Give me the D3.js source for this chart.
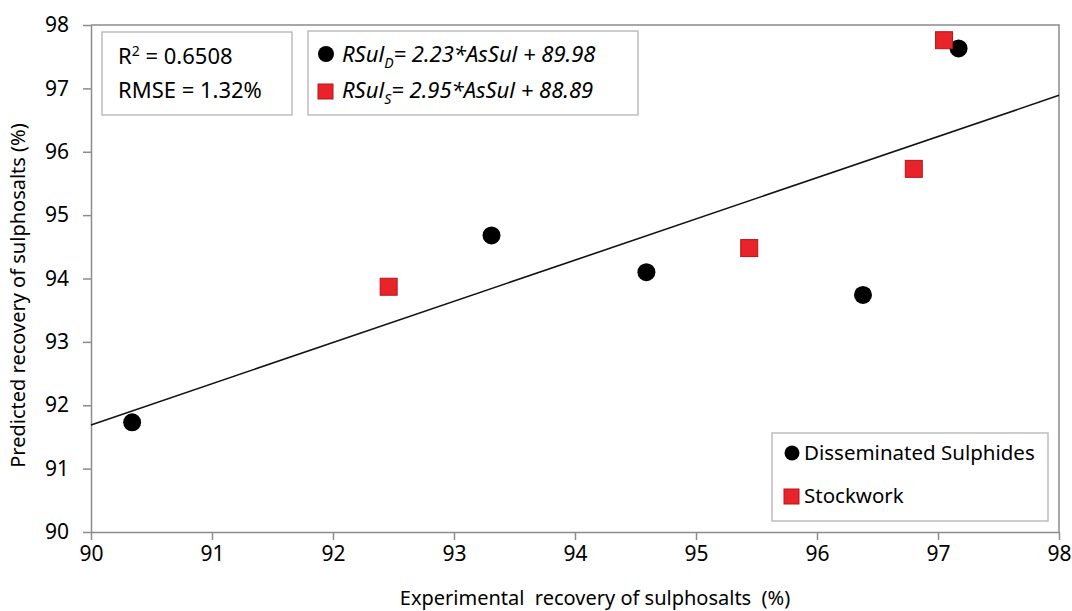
<!DOCTYPE html>
<html>
<head>
<meta charset="utf-8">
<script src="https://cdn.jsdelivr.net/npm/d3@7"></script>
<style>
  body { margin: 0; background: #fff; }
  text { font-family: "Noto Sans", "Open Sans", sans-serif; }
</style>
</head>
<body>
<script>
// experimental (x) vs predicted (y) recovery
const disseminated = [
  [90.34, 91.73], [93.31, 94.68], [94.59, 94.10], [96.38, 93.74], [97.17, 97.63]
];
const stockwork = [
  [92.46, 93.87], [95.44, 94.48], [96.80, 95.73], [97.05, 97.76]
];
const fitLine = [[90, 91.69], [98, 96.89]];
const xTicks = [90, 91, 92, 93, 94, 95, 96, 97, 98];
const yTicks = [90, 91, 92, 93, 94, 95, 96, 97, 98];
const seriesNames = ["Disseminated Sulphides", "Stockwork"];

const width = 1072, height = 611;
const margin = {top: 25, right: 13, bottom: 79, left: 91};
const red = "#e8232a", redStroke = "#b3171c", axisColor = "#8c8c8c", boxColor = "#bdbdbd";

const svg = d3.select("body").append("svg")
    .attr("width", width)
    .attr("height", height);

const x = d3.scaleLinear().domain([90, 98]).range([margin.left, width - margin.right]);
const y = d3.scaleLinear().domain([90, 98]).range([height - margin.bottom, margin.top]);

// plot frame (top and right)
svg.append("path")
    .attr("d", `M${x(90)},${y(98)}H${x(98)}V${y(90)}`)
    .attr("fill", "none")
    .attr("stroke", axisColor)
    .attr("stroke-width", 1.5);

const xAxis = svg.append("g")
    .attr("transform", `translate(0,${y(90)})`)
    .call(d3.axisBottom(x).tickValues(xTicks).tickSize(8).tickPadding(6).tickSizeOuter(0));
const yAxis = svg.append("g")
    .attr("transform", `translate(${x(90)},0)`)
    .call(d3.axisLeft(y).tickValues(yTicks).tickSize(8).tickPadding(14).tickSizeOuter(0));

[xAxis, yAxis].forEach(function(a) {
    a.selectAll("path, line").attr("stroke", axisColor).attr("stroke-width", 1.5);
    a.selectAll("text")
        .attr("fill", "#000")
        .attr("font-size", 21)
        .attr("font-family", "'Noto Sans', sans-serif");
});

// axis titles
svg.append("text")
    .attr("x", (x(90) + x(98)) / 2 + 20)
    .attr("y", 605)
    .attr("text-anchor", "middle")
    .attr("font-size", 20)
    .attr("fill", "#000")
    .attr("xml:space", "preserve")
    .text("Experimental  recovery of sulphosalts  (%)");

svg.append("text")
    .attr("transform", `translate(25,${(y(90) + y(98)) / 2 + 17}) rotate(-90)`)
    .attr("text-anchor", "middle")
    .attr("font-size", 20)
    .attr("fill", "#000")
    .text("Predicted recovery of sulphosalts (%)");

// fitted line
svg.append("path")
    .datum(fitLine)
    .attr("d", d3.line().x(d => x(d[0])).y(d => y(d[1])))
    .attr("fill", "none")
    .attr("stroke", "#111")
    .attr("stroke-width", 1.6);

// points
svg.append("g").selectAll("circle")
    .data(disseminated)
    .enter().append("circle")
    .attr("cx", d => x(d[0]))
    .attr("cy", d => y(d[1]))
    .attr("r", 9)
    .attr("fill", "#000");

const sq = 17;
svg.append("g").selectAll("rect")
    .data(stockwork)
    .enter().append("rect")
    .attr("x", d => x(d[0]) - sq / 2)
    .attr("y", d => y(d[1]) - sq / 2)
    .attr("width", sq)
    .attr("height", sq)
    .attr("fill", red)
    .attr("stroke", redStroke)
    .attr("stroke-width", 1);

// R2 / RMSE box
const stats = svg.append("g");
stats.append("rect")
    .attr("x", 102).attr("y", 32).attr("width", 190).attr("height", 83)
    .attr("fill", "#fff").attr("stroke", boxColor).attr("stroke-width", 1.5);
const r2 = stats.append("text").attr("x", 118).attr("y", 64)
    .attr("font-size", 22).attr("fill", "#000");
r2.append("tspan").text("R");
r2.append("tspan").attr("dy", -8).attr("font-size", 14).text("2");
r2.append("tspan").attr("dy", 8).text(" = 0.6508");
stats.append("text").attr("x", 118).attr("y", 98)
    .attr("font-size", 22).attr("fill", "#000")
    .text("RMSE = 1.32%");

// equation box
const eq = svg.append("g");
eq.append("rect")
    .attr("x", 308).attr("y", 31).attr("width", 330).attr("height", 84)
    .attr("fill", "#fff").attr("stroke", boxColor).attr("stroke-width", 1.5);
eq.append("circle").attr("cx", 326).attr("cy", 54).attr("r", 8).attr("fill", "#000");
eq.append("rect").attr("x", 318).attr("y", 84).attr("width", 15).attr("height", 15)
    .attr("fill", red).attr("stroke", redStroke);
const eqRows = [
    {sub: "D", rest: "= 2.23*AsSul + 89.98", yy: 62},
    {sub: "S", rest: "= 2.95*AsSul + 88.89", yy: 98}
];
eqRows.forEach(function(r) {
    const t = eq.append("text").attr("x", 342).attr("y", r.yy)
        .attr("font-size", 22).attr("font-style", "italic").attr("fill", "#000");
    t.append("tspan").text("RSul");
    t.append("tspan").attr("dy", 6).attr("font-size", 14).text(r.sub);
    t.append("tspan").attr("dy", -6).text(r.rest);
});

// series legend
const leg = svg.append("g");
leg.append("rect")
    .attr("x", 772).attr("y", 433).attr("width", 276).attr("height", 88)
    .attr("fill", "#fff").attr("stroke", boxColor).attr("stroke-width", 1.5);
leg.append("circle").attr("cx", 792).attr("cy", 453).attr("r", 7.5).attr("fill", "#000");
leg.append("rect").attr("x", 784).attr("y", 489).attr("width", 15).attr("height", 15)
    .attr("fill", red).attr("stroke", redStroke);
leg.selectAll("text.name")
    .data(seriesNames)
    .enter().append("text")
    .attr("class", "name")
    .attr("x", 804)
    .attr("y", (d, i) => 460 + i * 43)
    .attr("font-size", 20.5)
    .attr("fill", "#000")
    .text(d => d);
</script>
</body>
</html>
